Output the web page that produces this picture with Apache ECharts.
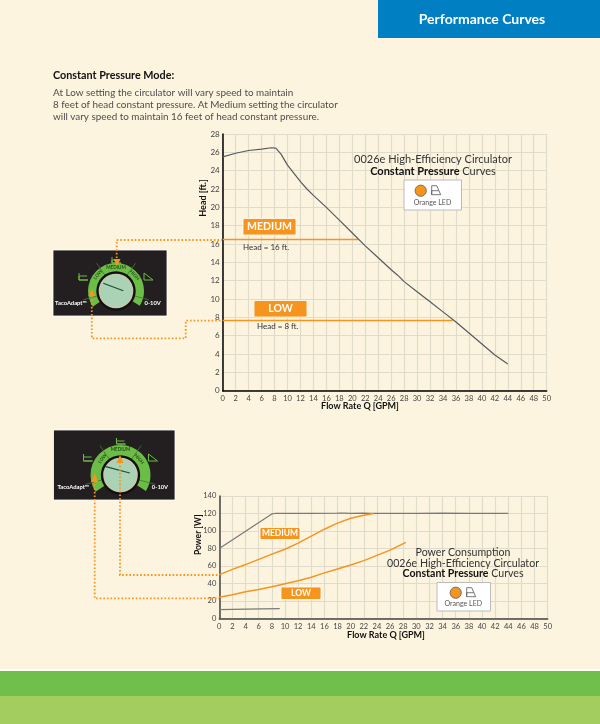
<!DOCTYPE html>
<html>
<head>
<meta charset="utf-8">
<script src="https://cdn.jsdelivr.net/npm/echarts@6/dist/echarts.min.js"></script>
<style>
html, body { margin: 0; padding: 0; background: #fcf4df; }
#chart { width: 600px; height: 724px; }
</style>
</head>
<body>
<div id="chart"></div>
<script>
const FONT = "Lato, sans-serif";
const ORANGE = "#f7941e";
const GREEN = "#6cbd45";

// top chart, head [ft.] against flow [GPM]
const headCurve = [[0,25.5],[2,25.9],[4,26.2],[6,26.35],[7.5,26.5],[8.2,26.45],[9,25.8],[10,24.6],[11,23.7],[12,22.8],[13,22],[14,21.3],[16,20],[18,18.6],[20,17.2],[22,15.8],[24,14.5],[26,13.2],[27,12.6],[28,11.9],[30,10.8],[32,9.7],[34,8.6],[36,7.5],[38,6.3],[40,5.1],[42,3.9],[44,2.9]];
const headMedium = [[0,16.5],[20.9,16.5]];
const headLow = [[0,7.65],[35.5,7.65]];

// bottom chart, power [W] against flow [GPM]
const powerMax = [[0,80],[8,119.5],[8.5,120],[14,120],[18,120.3],[19,120.5],[20,120],[22,120.5],[23,120],[30,120],[34,120.3],[38,120],[44,120]];
const powerMedium = [[0,50],[2,56],[4,61.5],[6,67.5],[8,73.5],[10,79],[12,86],[14,94],[16,102],[18,109],[20,114.5],[22,118],[23.5,120]];
const powerLow = [[0,24],[2,27],[4,30.5],[6,33],[8,36],[10,39.5],[12,43],[14,47],[16,52],[18,56.5],[20,61],[22,66],[24,72],[26,78],[28.4,87]];
const powerMin = [[0,10],[4,10.5],[9.2,11]];

function txt(x, y, text, size, opt) {
    return {
        type: "text",
        x: x,
        y: y,
        rotation: opt && opt.rotation || 0,
        z: 20,
        style: Object.assign({
            text: text,
            fontFamily: FONT,
            fontSize: size,
            fill: "#333",
            align: "center",
            verticalAlign: "middle"
        }, opt && opt.style)
    };
}

function badge(x0, y0, x1, y1, label, size) {
    return [
        {
            type: "rect",
            z: 19,
            shape: { x: x0, y: y0, width: x1 - x0, height: y1 - y0, r: 1.5 },
            style: { fill: ORANGE, stroke: "#fff", lineWidth: 0.8 }
        },
        txt((x0 + x1) / 2, (y0 + y1) / 2, label, size, {
            style: { fill: "#fff", fontWeight: "bold" }
        })
    ];
}

function dots(points) {
    return {
        type: "polyline",
        z: 18,
        shape: { points: points },
        style: { stroke: ORANGE, lineWidth: 1.8, lineDash: [1.6, 2], fill: null }
    };
}

function arrow(x, tipY, baseY) {
    return {
        type: "polygon",
        z: 25,
        shape: { points: [[x, tipY], [x + 3.5, baseY], [x - 3.5, baseY]] },
        style: { fill: ORANGE }
    };
}

// LED legend box
function ledBox(x0, y0, x1, y1, cx, cy, textX, textY) {
    return [
        {
            type: "rect",
            z: 15,
            shape: { x: x0, y: y0, width: x1 - x0, height: y1 - y0 },
            style: { fill: "#fff", stroke: "#b8bcc0", lineWidth: 1 }
        },
        {
            type: "circle",
            z: 16,
            shape: { cx: cx, cy: cy, r: 5.6 },
            style: { fill: ORANGE, stroke: "#6b7074", lineWidth: 1 }
        },
        {
            type: "polyline",
            z: 16,
            shape: { points: [[cx + 11, cy + 4], [cx + 11, cy - 5], [cx + 16, cy - 5], [cx + 20, cy + 4], [cx + 11, cy + 4], [cx + 11, cy], [cx + 18, cy]] },
            style: { stroke: "#555", lineWidth: 0.8, fill: null }
        },
        txt(textX, textY, "Orange LED", 7, { style: { fill: "#555" } })
    ];
}

// the control dial photo, drawn as plain shapes
function dial(d) {
    const rad = a => a * Math.PI / 180;
    const cx = d.cx;
    const cy = d.cy;
    const out = [
        {
            type: "rect",
            z: 10,
            shape: { x: d.x0, y: d.y0, width: d.x1 - d.x0, height: d.y1 - d.y0 },
            style: { fill: "#231f20", stroke: "#fff", lineWidth: 0.8 }
        },
        {
            type: "sector",
            z: 11,
            shape: { cx: cx, cy: cy, r: d.ring, r0: 18, startAngle: rad(146), endAngle: rad(392) },
            style: { fill: GREEN }
        }
    ];
    [165, 235, 305, 15].forEach(a => {
        const c = Math.cos(rad(a));
        const n = Math.sin(rad(a));
        out.push({
            type: "line",
            z: 12,
            shape: { x1: cx + c * 18, y1: cy + n * 18, x2: cx + c * (d.ring + 6), y2: cy + n * (d.ring + 6) },
            style: { stroke: "#3f7a2e", lineWidth: 0.8 }
        });
    });
    out.push(
        {
            type: "circle",
            z: 13,
            shape: { cx: cx, cy: cy, r: 19.7 },
            style: { fill: "#111" }
        },
        {
            type: "circle",
            z: 13,
            shape: { cx: cx, cy: cy, r: 16.5 },
            style: { fill: "#a9d3b4", stroke: "#c9c7b0", lineWidth: 1.6 }
        },
        {
            type: "line",
            z: 14,
            shape: { x1: cx + d.needle[0], y1: cy + d.needle[1], x2: cx + d.needle[2], y2: cy + d.needle[3] },
            style: { stroke: "#1d4a3c", lineWidth: 1.2 }
        },
        txt(cx - 18, cy - 16.5, "LOW", 4.6, { rotation: 0.9, style: { fill: "#24501c", fontWeight: "bold" } }),
        txt(cx, cy - d.ring + 5, "MEDIUM", 4.6, { style: { fill: "#24501c", fontWeight: "bold" } }),
        txt(cx + 18.5, cy - 16, "HIGH", 4.6, { rotation: -0.85, style: { fill: "#24501c", fontWeight: "bold" } }),
        txt(d.brandX, d.labelY, "TacoAdapt\u2122", 5.8, { style: { fill: "#fff", fontWeight: "bold" } }),
        txt(d.voltX, d.labelY, "0-10V", 5.8, { style: { fill: "#fff", fontWeight: "bold" } })
    );
    // setting icons
    const lift = d.iconLift;
    [
        [[-37, -18], [-37, -11], [-28, -11], [-37, -11], [-37, -15], [-29, -15]],
        [[-4, -34], [-4, -28], [5, -28], [-4, -28], [-4, -31], [4, -31]],
        [[28, -11], [37, -11], [28, -18], [28, -11]]
    ].forEach(pts => {
        out.push({
            type: "polyline",
            z: 12,
            shape: { points: pts.map(p => [cx + p[0], cy + p[1] - lift]) },
            style: { stroke: GREEN, lineWidth: 1, fill: null }
        });
    });
    return out;
}

const graphicElements = [
    // page furniture
    { type: "rect", z: 1, shape: { x: 378, y: 0, width: 222, height: 38 }, style: { fill: "#0080c3" } },
    { type: "rect", z: 1, shape: { x: 0, y: 669, width: 600, height: 2 }, style: { fill: "#fffdf6" } },
    { type: "rect", z: 1, shape: { x: 0, y: 671, width: 600, height: 25 }, style: { fill: "#70bf4c" } },
    { type: "rect", z: 1, shape: { x: 0, y: 696, width: 600, height: 28 }, style: { fill: "#a4cd60" } },
    txt(482, 19, "Performance Curves", 14, { style: { fill: "#fff", fontWeight: "bold" } }),
    txt(53, 76, "Constant Pressure Mode:", 10.8, { style: { align: "left", fill: "#111", fontWeight: "bold" } }),
    txt(53, 92.5, "At Low setting the circulator will vary speed to maintain", 9.9, { style: { align: "left", fill: "#4d4d4d" } }),
    txt(53, 104.5, "8 feet of head constant pressure. At Medium setting the circulator", 9.9, { style: { align: "left", fill: "#4d4d4d" } }),
    txt(53, 116.5, "will vary speed to maintain 16 feet of head constant pressure.", 9.9, { style: { align: "left", fill: "#4d4d4d" } }),

    // top chart notes
    txt(203, 198, "Head [ft.]", 9, { rotation: Math.PI / 2, style: { fill: "#111", fontWeight: "bold" } }),
    txt(360, 406.5, "Flow Rate Q [GPM]", 9, { style: { fill: "#111", fontWeight: "bold" } }),
    txt(433, 159.5, "0026e High-Efficiency Circulator", 11, {}),
    {
        type: "text",
        x: 433,
        y: 171.5,
        z: 20,
        style: {
            text: "{b|Constant Pressure} Curves",
            fontFamily: FONT,
            fontSize: 11,
            fill: "#333",
            align: "center",
            verticalAlign: "middle",
            rich: { b: { fontFamily: FONT, fontSize: 11, fontWeight: "bold", fill: "#111" } }
        }
    },
    txt(243, 247, "Head = 16 ft.", 8, { style: { align: "left" } }),
    txt(257, 326, "Head = 8 ft.", 8, { style: { align: "left" } }),
    ...badge(243, 218.5, 296, 235, "MEDIUM", 10.5),
    ...badge(254, 300.5, 307, 317, "LOW", 10.5),
    ...ledBox(404, 180, 461.5, 210, 420.7, 190.7, 432.5, 203),

    // bottom chart notes
    txt(198.5, 534.7, "Power [W]", 8.5, { rotation: Math.PI / 2, style: { fill: "#111", fontWeight: "bold" } }),
    txt(386, 635, "Flow Rate Q [GPM]", 9, { style: { fill: "#111", fontWeight: "bold" } }),
    txt(463, 552.5, "Power Consumption", 10.6, {}),
    txt(463, 563.5, "0026e High-Efficiency Circulator", 10.6, {}),
    {
        type: "text",
        x: 463,
        y: 574,
        z: 20,
        style: {
            text: "{b|Constant Pressure} Curves",
            fontFamily: FONT,
            fontSize: 10.6,
            fill: "#333",
            align: "center",
            verticalAlign: "middle",
            rich: { b: { fontFamily: FONT, fontSize: 10.6, fontWeight: "bold", fill: "#111" } }
        }
    },
    ...badge(260, 527.5, 300, 539.5, "MEDIUM", 8.5),
    ...badge(281, 587, 321, 599.5, "LOW", 8.5),
    ...ledBox(437, 582.5, 490.5, 611, 455.7, 592.7, 463.3, 604),

    // dials and connectors
    ...dial({ x0: 53, y0: 250, x1: 167, y1: 316, cx: 116, cy: 291, ring: 28, brandX: 71, voltX: 152.7, labelY: 303, needle: [-12.7, -7.7, 7.3, -0.3], iconLift: 0 }),
    ...dial({ x0: 53.5, y0: 430, x1: 175, y1: 500, cx: 120.5, cy: 475, ring: 30, brandX: 73.3, voltX: 160, labelY: 486.7, needle: [-15.7, -8.7, 9.3, -2], iconLift: 3 }),
    dots([[116.7, 258], [116.7, 240], [222, 240]]),
    dots([[91.8, 296], [91.8, 338.4], [185.7, 338.4], [185.7, 320.6], [222, 320.6]]),
    dots([[120, 462], [120, 575], [219, 575]]),
    dots([[94.7, 481], [94.7, 598.4], [219, 598.4]]),
    arrow(117, 266, 259),
    arrow(91.8, 289, 296),
    arrow(120, 455, 463),
    arrow(94.7, 473, 482)
];

function xAxisFor(gridIndex, axisColor) {
    return {
        type: "value",
        gridIndex: gridIndex,
        min: 0,
        max: 50,
        interval: 2,
        axisLine: { onZero: false, lineStyle: { color: axisColor, width: 1.5 } },
        axisTick: { show: false },
        axisLabel: { color: "#444", fontFamily: FONT, fontSize: 7.5, margin: 4 },
        splitLine: { show: true, lineStyle: { color: "#e0dccb", width: 1.2 } }
    };
}

function yAxisFor(gridIndex, max, step, axisColor, fontSize) {
    return {
        type: "value",
        gridIndex: gridIndex,
        min: 0,
        max: max,
        interval: step,
        axisLine: { show: true, onZero: false, lineStyle: { color: axisColor, width: 1.5 } },
        axisTick: { show: false },
        axisLabel: { color: "#444", fontFamily: FONT, fontSize: fontSize, margin: 3 },
        splitLine: { show: true, lineStyle: { color: "#e0dccb", width: 1.2 } }
    };
}

function lineSeries(name, index, data, color, width) {
    return {
        name: name,
        type: "line",
        xAxisIndex: index,
        yAxisIndex: index,
        showSymbol: false,
        silent: true,
        lineStyle: { color: color, width: width },
        data: data
    };
}

const chart = echarts.init(document.getElementById("chart"), null, { renderer: "canvas" });

chart.setOption({
    animation: false,
    backgroundColor: "#fcf4df",
    textStyle: { fontFamily: FONT },
    grid: [
        { left: 222.7, right: 53.3, top: 134, bottom: 333.3 },
        { left: 219.3, right: 52.3, top: 496, bottom: 105.7 }
    ],
    xAxis: [xAxisFor(0, "#000"), xAxisFor(1, "#444")],
    yAxis: [yAxisFor(0, 28, 2, "#000", 8), yAxisFor(1, 140, 20, "#444", 7.5)],
    series: [
        lineSeries("Head medium", 0, headMedium, ORANGE, 1.5),
        lineSeries("Head low", 0, headLow, ORANGE, 1.5),
        lineSeries("Head", 0, headCurve, "#565b61", 1.2),
        lineSeries("Power max", 1, powerMax, "#77797b", 1.2),
        lineSeries("Power min", 1, powerMin, "#77797b", 1.2),
        lineSeries("Power medium", 1, powerMedium, ORANGE, 1.5),
        lineSeries("Power low", 1, powerLow, ORANGE, 1.5)
    ],
    graphic: { elements: graphicElements }
});

window.addEventListener("resize", () => chart.resize());
</script>
</body>
</html>
